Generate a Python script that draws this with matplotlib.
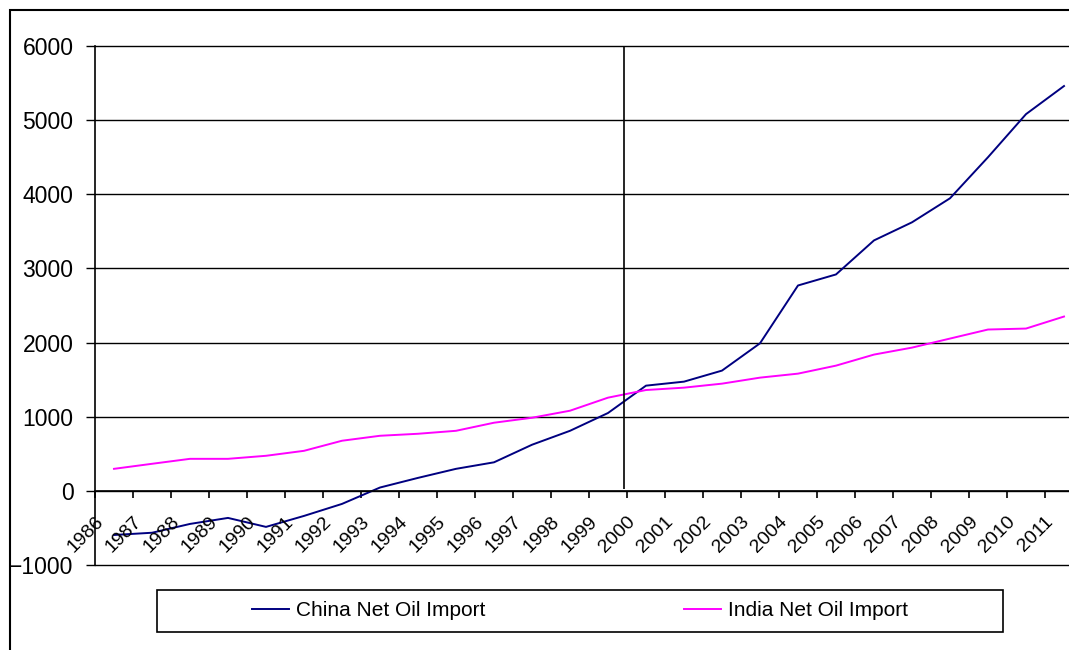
import matplotlib
matplotlib.use("Agg")
import matplotlib.pyplot as plt
import matplotlib.transforms as mtransforms
from matplotlib.patches import Rectangle
import numpy as np

plt.rcParams['font.family'] = ['Liberation Sans', 'DejaVu Sans']

years = [str(y) for y in range(1986, 2012)]
china = [-595, -565, -446, -365, -486, -338, -176, 45, 175, 297, 385, 622,
         810, 1050, 1419, 1473, 1622, 1990, 2770, 2919, 3378, 3622, 3946,
         4500, 5081, 5460]
india = [297, 365, 432, 432, 473, 540, 676, 743, 770, 810, 919, 986,
         1081, 1257, 1360, 1392, 1446, 1527, 1581, 1689, 1838, 1932, 2054,
         2176, 2189, 2351]
marker_year = '2000'

W, H = 1069, 650
fig = plt.figure(figsize=(W / 100, H / 100), dpi=100)
# plot area runs past the right edge, as in the cropped original
ax = fig.add_axes([95 / W, (H - 565) / H, (1083 - 95) / W, (565 - 46) / H])

x = np.arange(len(years)) + 0.5
ax.plot(x, china, color='#000080', lw=1.4, label='China Net Oil Import')
ax.plot(x, india, color='#FF00FF', lw=1.4, label='India Net Oil Import')

ax.set_xlim(0, len(years))
ax.set_ylim(-1000, 6000)
ax.set_yticks(range(-1000, 6001, 1000))
for v in range(-1000, 6001, 1000):
    ax.axhline(v, color='black', lw=1.0, zorder=0, clip_on=False)

# vertical marker just left of the 2000 category
xm = years.index(marker_year) - 0.08
ax.vlines(xm, 30, 6000, color='black', lw=1.2)

for s in ['top', 'right']:
    ax.spines[s].set_visible(False)
ax.spines['left'].set_linewidth(1.2)
ax.spines['bottom'].set_position(('data', 0))
ax.spines['bottom'].set_linewidth(1.2)

ax.set_xticks(np.arange(len(years) + 1))
ax.set_xticklabels([])
ax.tick_params(axis='x', direction='out', length=5, width=1.2)
ax.tick_params(axis='y', direction='out', length=6.5, width=1.0, pad=9,
               labelsize=16.5)

trans = mtransforms.offset_copy(ax.transData, fig=fig, x=6, y=-28, units='dots')
for i, yr in enumerate(years):
    ax.text(i, 0, yr, transform=trans, rotation=45, ha='right', va='center',
            rotation_mode='anchor', fontsize=14)

# legend box
fig.patches.append(Rectangle((157 / W, 1 - 632 / H), (1003 - 157) / W, 42 / H,
                             transform=fig.transFigure, fill=False,
                             ec='black', lw=1.2))
fig.legend(loc='center', bbox_to_anchor=(580 / W, 1 - 611 / H), ncol=2,
           frameon=False, fontsize=15, handlelength=1.8, handletextpad=0.35,
           columnspacing=9.5)

# outer chart border (cropped at right and bottom)
fig.patches.append(Rectangle((10 / W, -0.1), 1.2, 1 - 10 / H + 0.1,
                             transform=fig.transFigure, fill=False,
                             ec='black', lw=1.5))

fig.savefig('out.png', dpi=100)
